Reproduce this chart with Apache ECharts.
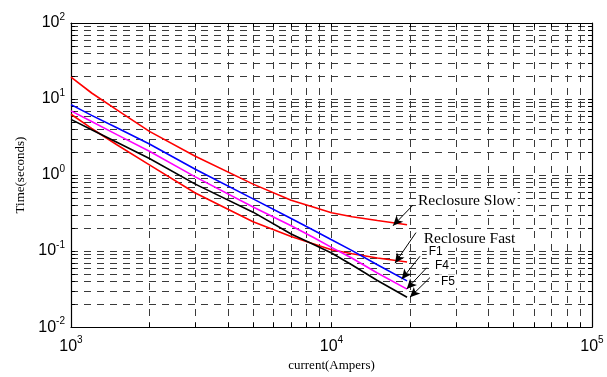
<!DOCTYPE html>
<html>
<head>
<meta charset="utf-8">
<script src="https://cdn.jsdelivr.net/npm/echarts@6/dist/echarts.min.js"></script>
<style>
  html, body { margin: 0; padding: 0; background: #fff; }
  #chart { width: 607px; height: 377px; }
</style>
</head>
<body>
<div id="chart"></div>
<script>
const currents = [1000, 1200, 1500, 2000, 3000, 5000, 7000, 8500, 10000, 12000, 15000, 19500];

// operating times (s)
const reclosure_slow = [19.4, 12.0, 7.2, 3.75, 1.77, 0.76, 0.465, 0.38, 0.32, 0.283, 0.252, 0.222];
const reclosure_fast = [6.3, 4.1, 2.5, 1.36, 0.58, 0.243, 0.155, 0.125, 0.104, 0.092, 0.081, 0.072];
const f1_times = [8.43, 6.1, 4.2, 2.56, 1.19, 0.486, 0.268, 0.189, 0.141, 0.1015, 0.066, 0.0406];
const f4_times = [6.98, 5.05, 3.4, 2.06, 0.946, 0.38, 0.215, 0.152, 0.112, 0.0806, 0.0515, 0.0316];
const f5_times = [5.4, 3.95, 2.7, 1.65, 0.76, 0.325, 0.168, 0.123, 0.0944, 0.0656, 0.041, 0.0247];

// axis tick labels (decades)
const x_tick_labels = [1000, 10000, 100000];
const y_tick_labels = [0.01, 0.1, 1, 10, 100];

// annotations: text anchor, arrow tail, arrow head (data coords)
const note_texts = ["Reclosure Slow", "Reclosure Fast", "F1", "F4", "F5"];
const note_pos = [[21100, 0.46], [22200, 0.145], [23200, 0.097], [24500, 0.064], [25870, 0.0400]];
const arrow_tail = [[20560, 0.403], [21100, 0.175], [21870, 0.0855], [23200, 0.0604], [23880, 0.0448]];
const arrow_head = [[17220, 0.215], [17530, 0.0694], [18600, 0.0427], [19440, 0.0317], [20010, 0.0247]];

// 1..9 x 10^d for every decade in range, used for grid and ticks
function log_ticks(lo_exp, hi_exp) {
    const out = [];
    for (let d = lo_exp; d < hi_exp; d++) {
        for (let k = 1; k <= 9; k++) out.push(Number((k * Math.pow(10, d)).toPrecision(3)));
    }
    out.push(Math.pow(10, hi_exp));
    return out;
}
const x_ticks = log_ticks(3, 5);
const y_ticks = log_ticks(-2, 2);

const pow_label = (v) => `{b|10}{s|${Math.round(Math.log10(v))}}`;
const label_rich = {
    b: { fontSize: 16, fontFamily: "Liberation Sans, Arial", color: "#000" },
    s: { fontSize: 10, fontFamily: "Liberation Sans, Arial", color: "#000", padding: [0, 0, 12, 0] },
};

const grid_line = { show: true, lineStyle: { color: "#3a3a3a", width: 1, type: [7, 6] } };
const box_line = { show: true, onZero: false, lineStyle: { color: "#000", width: 1.2 } };
const in_tick = { show: true, inside: true, length: 4, lineStyle: { color: "#000" } };

const zip = (xs, ys) => xs.map((x, i) => [x, ys[i]]);
const curve = (name, color, ys) => ({
    name,
    type: "line",
    data: zip(currents, ys),
    showSymbol: false,
    smooth: false,
    lineStyle: { color, width: 1.6 },
    itemStyle: { color },
    z: 3,
});

const chart = echarts.init(document.getElementById("chart"), null, { renderer: "canvas" });

chart.setOption({
    animation: false,
    grid: { left: 71, right: 15, top: 23, bottom: 45 },
    xAxis: [
        {
            type: "log", min: 1000, max: 100000, position: "bottom",
            name: "current(Ampers)", nameLocation: "middle", nameGap: 27,
            nameTextStyle: { fontFamily: "Liberation Serif, Times New Roman", fontSize: 13, color: "#000" },
            axisLine: box_line,
            axisTick: { ...in_tick, customValues: x_ticks },
            axisLabel: { customValues: x_tick_labels, formatter: pow_label, rich: label_rich, margin: 8 },
            splitLine: grid_line,
        },
        {
            type: "log", min: 1000, max: 100000, position: "top",
            axisLine: box_line,
            axisTick: { ...in_tick, customValues: x_ticks },
            axisLabel: { show: false },
            splitLine: { show: false },
        },
    ],
    yAxis: [
        {
            type: "log", min: 0.01, max: 100, position: "left",
            name: "Time(seconds)", nameLocation: "middle", nameGap: 44,
            nameTextStyle: { fontFamily: "Liberation Serif, Times New Roman", fontSize: 13, color: "#000" },
            axisLine: box_line,
            axisTick: { ...in_tick, customValues: y_ticks },
            axisLabel: { customValues: y_tick_labels, formatter: pow_label, rich: label_rich, margin: 6 },
            splitLine: grid_line,
        },
        {
            type: "log", min: 0.01, max: 100, position: "right",
            axisLine: box_line,
            axisTick: { ...in_tick, customValues: y_ticks },
            axisLabel: { show: false },
            splitLine: { show: false },
        },
    ],
    series: [
        curve("Reclosure Slow", "#ff0000", reclosure_slow),
        curve("Reclosure Fast", "#ff0000", reclosure_fast),
        curve("F1", "#0000ff", f1_times),
        curve("F4", "#ff00ff", f4_times),
        {
            ...curve("F5", "#000000", f5_times),
            markLine: {
                silent: true,
                symbol: ["none", "arrow"],
                symbolSize: [7, 10],
                label: { show: false },
                lineStyle: { color: "#000", width: 1, type: "solid" },
                data: arrow_tail.map((t, i) => [{ coord: t }, { coord: arrow_head[i] }]),
            },
            markPoint: {
                silent: true,
                symbolSize: 0,
                data: note_texts.map((txt, i) => ({
                    coord: note_pos[i],
                    label: {
                        show: true,
                        position: "right",
                        distance: 0,
                        formatter: txt,
                        color: "#000",
                        backgroundColor: "#fff",
                        padding: [1, 2],
                        fontFamily: i < 2 ? "Liberation Serif, Times New Roman" : "Liberation Sans, Arial",
                        fontSize: i < 2 ? 15.5 : 12,
                    },
                })),
            },
        },
    ],
});
</script>
</body>
</html>
